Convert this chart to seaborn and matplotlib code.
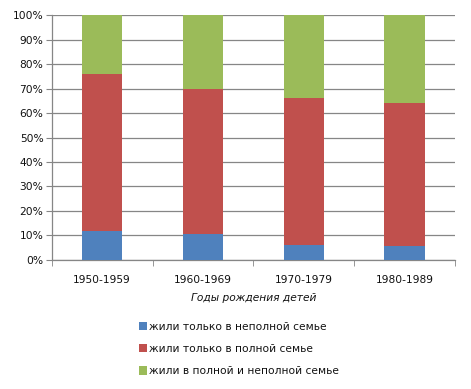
import matplotlib
matplotlib.use("Agg")
import matplotlib.pyplot as plt
import seaborn as sns
import pandas as pd
import numpy as np
from matplotlib.patches import Patch
from matplotlib.ticker import PercentFormatter, FixedLocator

categories = ["1950-1959", "1960-1969", "1970-1979", "1980-1989"]
series_names = ["жили только в неполной семье",
                "жили только в полной семье",
                "жили в полной и неполной семье"]
only_incomplete = [11.6, 10.6, 6.0, 5.7]
only_complete = [64.4, 59.3, 60.2, 58.5]
both = [24.0, 30.1, 33.8, 35.8]
colors = ["#4F81BD", "#C0504D", "#9BBB59"]
x_label = "Годы рождения детей"

sns.set_style("white")
plt.rcParams['font.family'] = ['DejaVu Sans']

fig = plt.figure(figsize=(4.71, 3.89), dpi=100)
ax = fig.add_axes([0.110, 0.332, 0.856, 0.629])

values = [only_incomplete, only_complete, both]
bottom = np.zeros(len(categories))
for name, vals, col in zip(series_names, values, colors):
    df = pd.DataFrame({"cat": categories, "val": vals})
    sns.barplot(data=df, x="cat", y="val", color=col, width=0.4,
                bottom=bottom, ax=ax, saturation=1, linewidth=0, zorder=3)
    bottom = bottom + np.array(vals)

ax.set_ylim(0, 100)
ax.set_xlim(-0.5, len(categories) - 0.5)
ax.set_yticks(np.arange(0, 101, 10))
ax.yaxis.set_major_formatter(PercentFormatter(decimals=0))
ax.grid(axis="y", color="#868686", linewidth=0.9, zorder=0)
ax.set_axisbelow(True)
for s in ["top", "right"]:
    ax.spines[s].set_visible(False)
for s in ["left", "bottom"]:
    ax.spines[s].set_color("#868686")
    ax.spines[s].set_linewidth(0.9)
ax.tick_params(axis="y", direction="out", length=4, color="#868686",
               labelsize=7.7, pad=2, left=True, labelcolor="#111111")
ax.tick_params(axis="x", which="major", length=0, labelsize=7.7, pad=11,
               labelcolor="#111111")
ax.xaxis.set_minor_locator(FixedLocator(np.arange(-0.5, len(categories), 1.0)))
ax.tick_params(axis="x", which="minor", direction="out", length=4,
               color="#868686", bottom=True)
ax.set_xlabel(x_label, fontsize=7.7, style="italic", labelpad=6, color="#111111")
ax.set_ylabel("")

handles = [Patch(facecolor=c, edgecolor="none") for c in colors]
fig.legend(handles, series_names, loc="upper left",
           bbox_to_anchor=(0.283, 0.187), frameon=False, fontsize=7.7,
           handlelength=0.8, handleheight=0.8, handletextpad=0.2,
           labelspacing=1.15, borderpad=0, labelcolor="#111111")

fig.savefig("out.png", dpi=100)
